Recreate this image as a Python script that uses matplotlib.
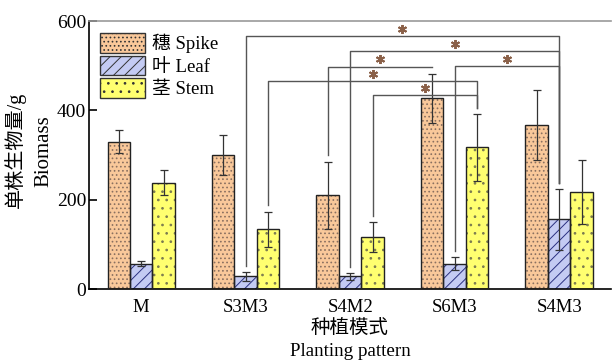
import matplotlib
matplotlib.use("Agg")
import matplotlib.pyplot as plt
import numpy as np
from matplotlib.patches import Patch

plt.rcParams['font.family'] = ['Liberation Serif', 'Noto Sans CJK SC']
plt.rcParams['hatch.linewidth'] = 0.7

groups = ['M', 'S3M3', 'S4M2', 'S6M3', 'S4M3']
spike = [330, 300, 210, 427, 367]
spike_err = [26, 45, 75, 55, 78]
leaf = [57, 28, 28, 57, 156]
leaf_err = [5, 9, 8, 14, 68]
stem = [238, 134, 116, 317, 217]
stem_err = [28, 39, 33, 75, 72]
series_labels = ['穗 Spike', '叶 Leaf', '茎 Stem']

# significance brackets: (group_a, series_a, group_b, series_b, bracket height)
brackets = [
    (1, 1, 4, 1, 567),
    (2, 1, 4, 1, 533),
    (2, 0, 3, 0, 498),
    (3, 1, 4, 1, 500),
    (1, 2, 3, 2, 466),
    (2, 2, 3, 2, 434),
]

fig = plt.figure(figsize=(6.12, 3.61), dpi=100)
ax = fig.add_axes([89/612, 1-289/361, 523/612 - 0.001, 268/361])

x = np.arange(len(groups))
w = 0.215
faces = ['#F9C89A', '#C4CBF3', '#FFFF70']
edges = ['#8a7060', '#2a3080', '#7a7a50']
hatches = ['....', '///', '..']
vals = [spike, leaf, stem]
errs = [spike_err, leaf_err, stem_err]
offs = [-w, 0, w]

for k in range(3):
    ax.bar(x + offs[k], vals[k], w, color=faces[k], edgecolor=edges[k],
           hatch=hatches[k], linewidth=0, zorder=2)
    ax.bar(x + offs[k], vals[k], w, color='none', edgecolor='#222222',
           linewidth=1.0, zorder=3)
    ax.errorbar(x + offs[k], vals[k], yerr=errs[k], fmt='none', ecolor='#333333',
                elinewidth=0.9, capsize=3.2, capthick=0.9, zorder=4)

gap = 14
for ga, sa, gb, sb, h in brackets:
    xa = x[ga] + offs[sa]
    xb = x[gb] + offs[sb]
    ya = vals[sa][ga] + errs[sa][ga] + gap
    yb = vals[sb][gb] + errs[sb][gb] + gap
    ax.plot([xa, xa, xb, xb], [ya, h, h, yb], color='#555555', lw=1.0, zorder=5)
    ax.plot([(xa + xb) / 2], [h + 16], marker=(6, 2, 0), ms=6.5, mew=1.4,
            color='#8a6048', zorder=6)

ax.set_xlim(-0.5, 4.5)
ax.set_ylim(0, 600)
ax.set_yticks([0, 200, 400, 600])
ax.set_xticks(x)
ax.set_xticklabels(groups)
ax.tick_params(axis='y', direction='in', length=6, width=1.2, pad=2, labelsize=14)
ax.tick_params(axis='x', length=0, pad=7, labelsize=13.5)
ax.spines['right'].set_visible(False)
ax.spines['top'].set_color('#999999')
ax.spines['top'].set_linewidth(1.2)
ax.spines['left'].set_linewidth(1.2)
ax.spines['bottom'].set_linewidth(1.2)

handles = [Patch(facecolor=faces[k], edgecolor=edges[k], hatch=hatches[k], linewidth=1.0)
           for k in range(3)]
leg = ax.legend(handles, series_labels, loc='upper left', bbox_to_anchor=(0.022, 0.955),
                frameon=False, fontsize=13.5, handlelength=2.35, handleheight=1.25,
                labelspacing=0.12, handletextpad=0.4, borderpad=0, borderaxespad=0)
for p in leg.get_patches():
    p.set_edgecolor('#333333')

fig.text(15/612, 1-150/361, '单株生物量/g', rotation=90, ha='center', va='center', fontsize=14.5)
fig.text(44/612, 1-151/361, 'Biomass', rotation=90, ha='center', va='center', fontsize=15)
fig.text(350/612, 1-329/361, '种植模式', ha='center', va='center', fontsize=14)
fig.text(350/612, 1-351/361, 'Planting pattern', ha='center', va='center', fontsize=13.7)

fig.savefig('out.png', dpi=100)
